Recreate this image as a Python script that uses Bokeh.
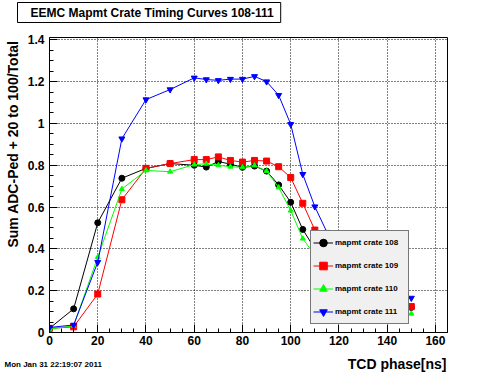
import math
from bokeh.plotting import figure
from bokeh.models import Range1d, FixedTicker, Label, Legend, LegendItem
from bokeh.embed import file_html
from bokeh.resources import INLINE

# ---- data ----
phase = [0, 10, 20, 30, 40, 50, 60, 65, 70, 75, 80, 85, 90, 95, 100, 105, 110, 115, 120, 125, 130, 140, 150]
crate108 = [0.020, 0.113, 0.525, 0.738, 0.785, 0.808, 0.800, 0.791, 0.818, 0.805, 0.790, 0.796, 0.772, 0.706, 0.623, 0.493, 0.400, 0.300, 0.220, 0.170, 0.150, 0.130, 0.120]
crate109 = [0.020, 0.027, 0.184, 0.635, 0.785, 0.808, 0.827, 0.827, 0.840, 0.823, 0.815, 0.823, 0.820, 0.793, 0.741, 0.618, 0.490, 0.380, 0.280, 0.210, 0.170, 0.140, 0.124]
crate110 = [0.016, 0.032, 0.360, 0.686, 0.775, 0.769, 0.803, 0.807, 0.800, 0.793, 0.790, 0.799, 0.772, 0.694, 0.583, 0.449, 0.370, 0.270, 0.190, 0.140, 0.120, 0.100, 0.090]
crate111 = [0.024, 0.036, 0.336, 0.927, 1.114, 1.162, 1.218, 1.210, 1.206, 1.212, 1.212, 1.225, 1.200, 1.135, 0.996, 0.757, 0.602, 0.480, 0.360, 0.280, 0.220, 0.180, 0.165]

series_labels = ["mapmt crate 108", "mapmt crate 109", "mapmt crate 110", "mapmt crate 111"]
x_ticks = [0, 20, 40, 60, 80, 100, 120, 140, 160]
y_ticks = [0, 0.2, 0.4, 0.6, 0.8, 1.0, 1.2, 1.4]
y_tick_labels = ["0", "0.2", "0.4", "0.6", "0.8", "1", "1.2", "1.4"]

title_text = "EEMC Mapmt Crate Timing Curves 108-111"
x_title = "TCD phase[ns]"
y_title = "Sum ADC-Ped + 20 to 100/Total"
date_text = "Mon Jan 31 22:19:07 2011"

FONT = "Liberation Sans"

p = figure(width=496, height=372, output_backend="svg", toolbar_location=None,
           x_range=Range1d(0, 165), y_range=Range1d(0, 1.411),
           min_border_left=49, min_border_right=49, min_border_top=37, min_border_bottom=37)
p.background_fill_color = "white"
p.border_fill_color = "white"
p.outline_line_color = "black"
p.outline_line_width = 1

# axes
p.xaxis.ticker = FixedTicker(ticks=x_ticks, minor_ticks=list(range(0, 166, 5)))
p.yaxis.ticker = FixedTicker(ticks=y_ticks, minor_ticks=[i * 0.05 for i in range(0, 29)])
p.yaxis.major_label_overrides = {t: l for t, l in zip(y_ticks, y_tick_labels)}
p.xaxis.major_label_overrides = {t: str(t) for t in x_ticks}
for ax in (p.xaxis[0], p.yaxis[0]):
    ax.axis_line_color = "black"
    ax.major_tick_line_color = "black"
    ax.minor_tick_line_color = "black"
    ax.major_tick_out = 0
    ax.minor_tick_out = 0
    ax.major_tick_in = 8
    ax.minor_tick_in = 4
    ax.major_label_text_font = FONT
    ax.major_label_text_font_style = "bold"
    ax.major_label_text_font_size = "12px"
    ax.major_label_text_color = "black"
p.xaxis.major_label_standoff = 3
p.yaxis.major_label_standoff = 5

p.xgrid.ticker = FixedTicker(ticks=x_ticks)
p.ygrid.ticker = FixedTicker(ticks=y_ticks)
for g in (p.xgrid[0], p.ygrid[0]):
    g.grid_line_color = "black"
    g.grid_line_dash = "1 2"
    g.grid_line_width = 1

# series
styles = [
    ("black", "circle", 6),
    ("red", "square", 6),
    ("#00ff00", "triangle", 5),
    ("blue", "inverted_triangle", 6),
]
items = []
for vals, lab, (col, mk, sz) in zip([crate108, crate109, crate110, crate111], series_labels, styles):
    ln = p.line(phase, vals, line_color=col, line_width=1)
    sc = p.scatter(phase, vals, marker=mk, size=sz, fill_color=col, line_color=col)
    items.append(LegendItem(label=lab, renderers=[ln, sc]))

legend = Legend(items=items, location=(261, 8))
legend.background_fill_color = "#f0f0f0"
legend.background_fill_alpha = 1
legend.border_line_color = "black"
legend.border_line_width = 1
legend.label_text_font = FONT
legend.label_text_font_style = "bold"
legend.label_text_font_size = "8px"
legend.label_text_color = "black"
legend.glyph_width = 20
legend.glyph_height = 19
legend.label_height = 19
legend.label_width = 71
legend.label_standoff = 2
legend.spacing = 4
legend.padding = 2
legend.margin = 0
p.add_layout(legend)

# texts outside the frame, placed in canvas pixels inside the side panels
p.add_layout(Label(x=17, y=12, x_units="canvas", y_units="canvas", text=title_text,
                   text_font=FONT, text_font_style="bold", text_font_size="12px",
                   text_color="black", text_align="left", text_baseline="middle",
                   background_fill_color="white", border_line_color="black",
                   padding=dict(left=13, right=7, top=3, bottom=3)), "above")
p.add_layout(Label(x=12, y=40, x_units="canvas", y_units="canvas", text=y_title,
                   angle=math.pi / 2, text_font=FONT, text_font_style="bold",
                   text_font_size="14px", text_color="black",
                   text_align="right", text_baseline="middle"), "left")
p.add_layout(Label(x=446, y=363, x_units="canvas", y_units="canvas", text=x_title,
                   text_font=FONT, text_font_style="bold", text_font_size="14px",
                   text_color="black", text_align="right", text_baseline="middle"), "below")
p.add_layout(Label(x=4, y=364, x_units="canvas", y_units="canvas", text=date_text,
                   text_font=FONT, text_font_style="bold", text_font_size="8px",
                   text_color="black", text_align="left", text_baseline="middle"), "below")

open("out.html", "w").write(file_html(p, INLINE))
